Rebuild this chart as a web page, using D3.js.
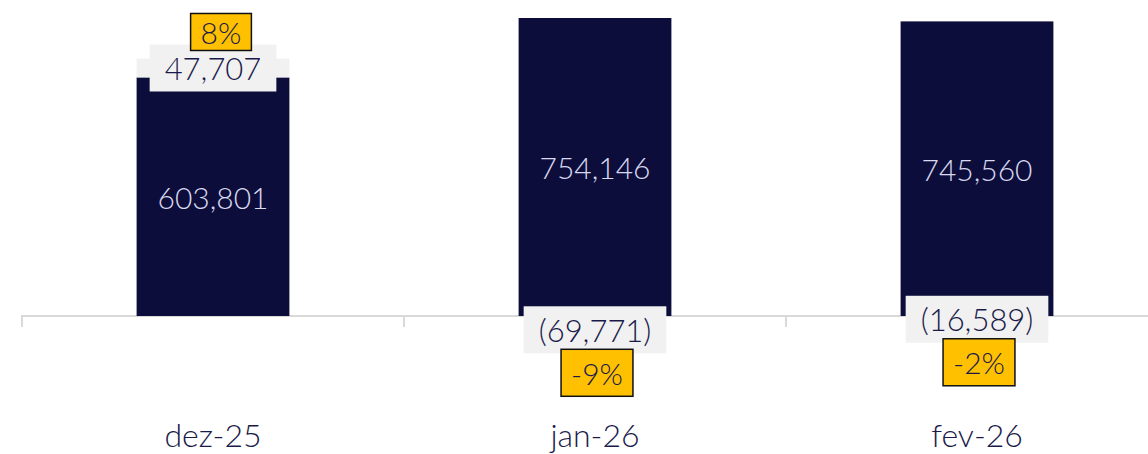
<!DOCTYPE html>
<html>
<head>
<meta charset="utf-8">
<script src="https://cdn.jsdelivr.net/npm/d3@7"></script>
<style>
  body { margin: 0; background: #fff; }
  svg text { font-family: "Lato", "Open Sans", sans-serif; }
</style>
</head>
<body>
<div id="chart"></div>
<script>
const months = ["dez-25", "jan-26", "fev-26"];
const baseValues = [603801, 754146, 745560];
const changeValues = [47707, -69771, -16589];
const changePct = ["8%", "-9%", "-2%"];

const width = 1148, height = 454;
const navy = "#0c0d3b", grey = "#f1f1f1", yellow = "#ffc000";

const svg = d3.select("#chart").append("svg")
    .attr("width", width).attr("height", height);

const x = d3.scaleBand().domain(months).range([22, 22 + 382 * 3]).paddingInner(0.6).paddingOuter(0.3);
const y = d3.scaleLinear().domain([0, 754146]).range([316, 18]);

const fmt = d3.format(",");
const fmtChange = v => v < 0 ? "(" + fmt(-v) + ")" : fmt(v);

// axis line + ticks at band edges
const ax = svg.append("g").attr("transform", `translate(0,${y(0)})`);
ax.append("path").attr("fill", "none").attr("stroke", "#d9d9d9").attr("stroke-width", 2)
  .attr("d", `M22,11V0H${width}`);
months.forEach(m => {
  const tx = x(m) - x.step() * x.paddingInner() / 2 - x.bandwidth() * 0 ;
  ax.append("line").attr("x1", x(m) + x.bandwidth() / 2 - x.step() / 2)
    .attr("x2", x(m) + x.bandwidth() / 2 - x.step() / 2)
    .attr("y1", 0).attr("y2", 11).attr("stroke", "#d9d9d9").attr("stroke-width", 2);
});

const data = months.map((m, i) => ({m, base: baseValues[i], chg: changeValues[i], pct: changePct[i]}));

// base bars
svg.selectAll(".bar").data(data).join("rect")
  .attr("class", "bar")
  .attr("x", d => x(d.m)).attr("width", x.bandwidth())
  .attr("y", d => y(d.base)).attr("height", d => y(0) - y(d.base))
  .attr("fill", navy);

// change segments (positive ones stacked on top in light grey)
const segTop = d => d.chg > 0 ? y(d.base + d.chg) : y(0);
const segBot = d => d.chg > 0 ? y(d.base) : y(0) + (y(0) - y(-d.chg));
svg.selectAll(".seg").data(data.filter(d => d.chg > 0)).join("rect")
  .attr("class", "seg")
  .attr("x", d => x(d.m)).attr("width", x.bandwidth())
  .attr("y", segTop).attr("height", d => segBot(d) - segTop(d))
  .attr("fill", grey);

// base labels
svg.selectAll(".blab").data(data).join("text")
  .attr("class", "blab")
  .attr("x", d => x(d.m) + x.bandwidth() / 2)
  .attr("y", d => (y(d.base) + y(0)) / 2)
  .attr("text-anchor", "middle").attr("dominant-baseline", "central")
  .attr("font-size", 30).attr("font-weight", 300)
  .attr("fill", "#d8d8ee")
  .text(d => fmt(d.base));

// change labels with grey box, plus percent boxes
data.forEach(d => {
  const cx = x(d.m) + x.bandwidth() / 2;
  const cy = (segTop(d) + segBot(d)) / 2;
  const g = svg.append("g");
  const box = g.append("rect").attr("fill", grey);
  const t = g.append("text")
    .attr("x", cx).attr("y", cy)
    .attr("text-anchor", "middle").attr("dominant-baseline", "central")
    .attr("font-size", 31).attr("font-weight", 300).attr("fill", "#1a1a4a")
    .text(fmtChange(d.chg));
  const bb = t.node().getBBox();
  const bw = bb.width + 30, bh = 47;
  box.attr("x", cx - bw / 2).attr("y", cy - bh / 2).attr("width", bw).attr("height", bh);

  const pcx = d.chg > 0 ? cx + 8 : cx + 2;
  const ph = d.chg > 0 ? 37 : 47;
  const py = d.chg > 0 ? cy - bh / 2 + 6 - ph : cy + bh / 2 - 4;
  const pg = svg.append("g");
  const pbox = pg.append("rect").attr("fill", yellow).attr("stroke", "#111").attr("stroke-width", 1.5);
  const pt = pg.append("text")
    .attr("x", pcx).attr("y", py + ph / 2)
    .attr("text-anchor", "middle").attr("dominant-baseline", "central")
    .attr("font-size", 30).attr("font-weight", 300).attr("fill", "#1a1a4a")
    .text(d.pct);
  const pw = pt.node().getBBox().width + 20;
  pbox.attr("x", pcx - pw / 2).attr("y", py).attr("width", pw).attr("height", ph);
});

// month labels
svg.selectAll(".mlab").data(data).join("text")
  .attr("class", "mlab")
  .attr("x", d => x(d.m) + x.bandwidth() / 2)
  .attr("y", 434)
  .attr("text-anchor", "middle").attr("dominant-baseline", "central")
  .attr("font-size", 32).attr("font-weight", 300).attr("fill", "#1a1a4a")
  .text(d => d.m);
</script>
</body>
</html>
